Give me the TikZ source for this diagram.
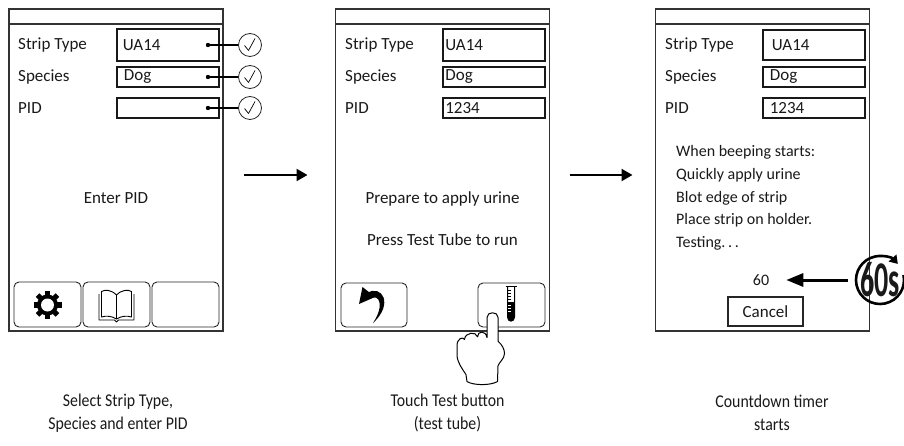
\documentclass[tikz,border=0pt]{standalone}
\usepackage{fontspec}
\setmainfont{Carlito}
\newfontfamily\capfont[FakeStretch=0.88]{Carlito}
\newfontfamily\timerfont[FakeStretch=0.56,UprightFont=* Bold]{Carlito}
\usetikzlibrary{arrows.meta}

\begin{document}
\begin{tikzpicture}[x=1pt,y=-1pt,
  every node/.style={text=black!90},
  screen/.style={draw=black!80, line width=1.3pt, minimum width=214pt,
    minimum height=322pt, inner sep=0pt, outer sep=0pt},
  headline/.style={draw=black!80, line width=1.1pt},
  lbl/.style={anchor=west, inner sep=0pt, font=\fontsize{17}{20}\selectfont},
  field/.style={draw=black!90, line width=1.7pt, anchor=west, inner ysep=0pt,
    font=\fontsize{17}{20}\selectfont, align=left},
  btn/.style={draw=black!85, line width=0.9pt, rounded corners=5pt,
    minimum width=67pt, minimum height=45pt, inner sep=0pt},
  msg/.style={font=\fontsize{17}{20}\selectfont, inner sep=0pt},
  tick/.style={circle, draw=black!85, line width=0.8pt, minimum size=23pt, inner sep=0pt},
  flow/.style={draw=black, line width=2.2pt, -{Triangle[length=11pt,width=12pt]}},
  bigarrow/.style={draw=black, line width=3pt, -{Triangle[length=17pt,width=13pt]}},
  caption/.style={align=center, font=\capfont\fontsize{18}{22.5}\selectfont, inner sep=0pt}
]
\useasboundingbox (0,0) rectangle (904,446);

% ---------------- screen 1 ----------------
\node[screen] (s1) at (116,170) {};
\draw[headline] ([yshift=-15pt]s1.north west) -- ([yshift=-15pt]s1.north east);
\node[lbl] (l11) at (18,45) {Strip Type};
\node[lbl] (l12) at (18,77) {Species};
\node[lbl] (l13) at (18,108) {PID};
\node[field, inner xsep=6pt, text width=90pt, minimum height=32pt] (f11) at (116,45) {UA14};
\node[field, inner xsep=7pt, text width=88pt, minimum height=20pt] (f12) at (116,77) {Dog};
\node[field, inner xsep=6pt, text width=90pt, minimum height=20pt] (f13) at (116,108) {};
\foreach \i/\yy in {1/45,2/77,3/108}{
  \coordinate (d\i) at (208,\yy);
  \fill[black] (d\i) circle (2.2);
  \node[tick] (k\i) at (250,\yy) {};
  \draw[black, line width=1.2pt] (d\i) -- (k\i.west);
  \draw[black, line width=0.7pt, line join=round]
    ([shift={(-5.5,0.5)}]k\i.center) -- ([shift={(-1.5,5.5)}]k\i.center) -- ([shift={(5,-6.5)}]k\i.center);
}
\node[msg] (m11) at (116,198) {Enter PID};
\node[btn] (b11) at (47.5,304.5) {};
\node[btn] (b12) at (116.5,304.5) {};
\node[btn] (b13) at (185.5,304.5) {};
% settings gear
\begin{scope}[shift={(47.5,305)}]
  \fill[black] (0,0) circle (10.5);
  \foreach \a in {0,45,90,135}
    \fill[black, rotate=\a] (-2.6,-14) rectangle (2.6,14);
  \fill[white] (0,0) circle (6.5);
\end{scope}
% manual book
\begin{scope}[black, line width=0.9pt, line join=round]
  \draw (99,294) -- (99,320) -- (114.5,320) -- (116.5,322) -- (118.5,320) -- (134,320) -- (134,294);
  \draw (116.5,295) .. controls (111,289.5) and (105,289.5) .. (101.5,291.5) -- (101.5,317)
        .. controls (106,315.5) and (112,316) .. (116.5,319) -- cycle;
  \draw (116.5,295) .. controls (122,289.5) and (128,289.5) .. (131.5,291.5) -- (131.5,317)
        .. controls (127,315.5) and (121,316) .. (116.5,319);
\end{scope}

% ---------------- screen 2 ----------------
\node[screen] (s2) at (442.5,170) {};
\draw[headline] ([yshift=-15pt]s2.north west) -- ([yshift=-15pt]s2.north east);
\node[lbl] (l21) at (345,45) {Strip Type};
\node[lbl] (l22) at (345,77) {Species};
\node[lbl] (l23) at (345,108) {PID};
\node[field, inner xsep=2.5pt, text width=97pt, minimum height=32pt] (f21) at (442,45) {UA14};
\node[field, inner xsep=2.5pt, text width=97pt, minimum height=20pt] (f22) at (442,77) {Dog};
\node[field, inner xsep=2.5pt, text width=97pt, minimum height=20pt] (f23) at (442,108) {1234};
\node[msg] (m21) at (442.5,199) {Prepare to apply urine};
\node[msg] (m22) at (442.5,240) {Press Test Tube to run};
\node[btn, minimum width=66pt, minimum height=44pt] (b21) at (374,305) {};
\node[btn, minimum height=44pt] (b22) at (511.5,305) {};
% back arrow
\fill[black] (359,304) -- (362.5,287) -- (375,297) -- cycle;
\fill[black] (367,293) .. controls (382,284) and (394,304) .. (373,323)
  .. controls (385,305) and (379,293.5) .. (370.5,298.5) -- cycle;
% test tube
\begin{scope}[black, line width=1pt]
  \fill (507.5,302) -- (507.5,317) .. controls (507.5,322.5) and (514.5,322.5) .. (514.5,317)
        -- (514.5,302) -- cycle;
  \draw (505.5,286.5) -- (516.5,286.5);
  \draw (507.5,287) -- (507.5,317) .. controls (507.5,322.5) and (514.5,322.5) .. (514.5,317) -- (514.5,287);
  \foreach \yy in {290.5,293.5,296.5,299.5} \draw[line width=0.9pt] (508,\yy) -- (511,\yy);
  \foreach \yy in {305.5,308.5,311.5} \draw[white, line width=0.9pt] (508,\yy) -- (511,\yy);
\end{scope}
% pointing hand
\draw[black, fill=white, line width=1pt, line join=round]
  (487,337.6) -- (487,317.4) .. controls (487,311.2) and (498,311.2) .. (498,317.4)
  -- (498,341.2) .. controls (502,344.7) and (504.5,349.1) .. (504.5,353.5)
  .. controls (504.5,358.8) and (499,362.3) .. (498,365.8) -- (497.5,381.6)
  .. controls (490,385.6) and (474,385.6) .. (467,381.6) -- (466,374.6)
  .. controls (462,368.4) and (457,362.3) .. (457,354.4) -- (457,345.6)
  .. controls (457,338.5) and (463,336.3) .. (464.5,339.4)
  .. controls (465,332.4) and (476,331) .. (477.5,336.8)
  .. controls (477.5,330.6) and (486,330.2) .. (487,337.6) -- cycle;

% ---------------- screen 3 ----------------
\node[screen] (s3) at (762.5,170) {};
\draw[headline] ([yshift=-15pt]s3.north west) -- ([yshift=-15pt]s3.north east);
\node[lbl] (l31) at (665,45) {Strip Type};
\node[lbl] (l32) at (665,77) {Species};
\node[lbl] (l33) at (665,108) {PID};
\node[field, inner xsep=9pt, text width=84pt, minimum height=30pt] (f31) at (762,45) {UA14};
\node[field, inner xsep=7pt, text width=88pt, minimum height=20pt] (f32) at (762,77) {Dog};
\node[field, inner xsep=7pt, text width=88pt, minimum height=20pt] (f33) at (762,108) {1234};
\node[msg, anchor=west, align=left, font=\fontsize{16}{22.75}\selectfont] (m31) at (676,198)
  {When beeping starts:\\Quickly apply urine\\Blot edge of strip\\Place strip on holder.\\Testing.\,.\,.};
\node[msg, font=\fontsize{16}{18}\selectfont] (n60) at (761,280) {60};
\node[draw=black!85, line width=1.3pt, minimum width=75pt, minimum height=29pt, inner sep=0pt,
  font=\fontsize{17}{20}\selectfont] (cancel) at (765.5,311.5) {Cancel};
% countdown timer icon
\node[circle, minimum size=48pt, inner sep=0pt, font=\timerfont\fontsize{50}{50}\selectfont] (tm) at (880,280) {60s};
\draw[black, line width=2.6pt, -{Triangle[length=8pt,width=10pt]}]
  (tm.center) ++(-12:24) arc[start angle=-12, end angle=318, radius=24];

% ---------------- connectors ----------------
\draw[flow, shorten <=21pt, shorten >=28pt] ([yshift=-5pt]s1.east) -- ([yshift=-5pt]s2.west);
\draw[flow, shorten <=20pt, shorten >=23pt] ([yshift=-5pt]s2.east) -- ([yshift=-5pt]s3.west);
\draw[bigarrow, shorten <=6pt, shorten >=17pt] (tm.west) -- (n60.east);

% ---------------- captions ----------------
\node[caption] (c1) at (118,413) {Select Strip Type,\\Species and enter PID};
\node[caption] (c2) at (447.5,413) {Touch Test button\\(test tube)};
\node[caption] (c3) at (772,413) {Countdown timer\\starts};
\end{tikzpicture}
\end{document}
